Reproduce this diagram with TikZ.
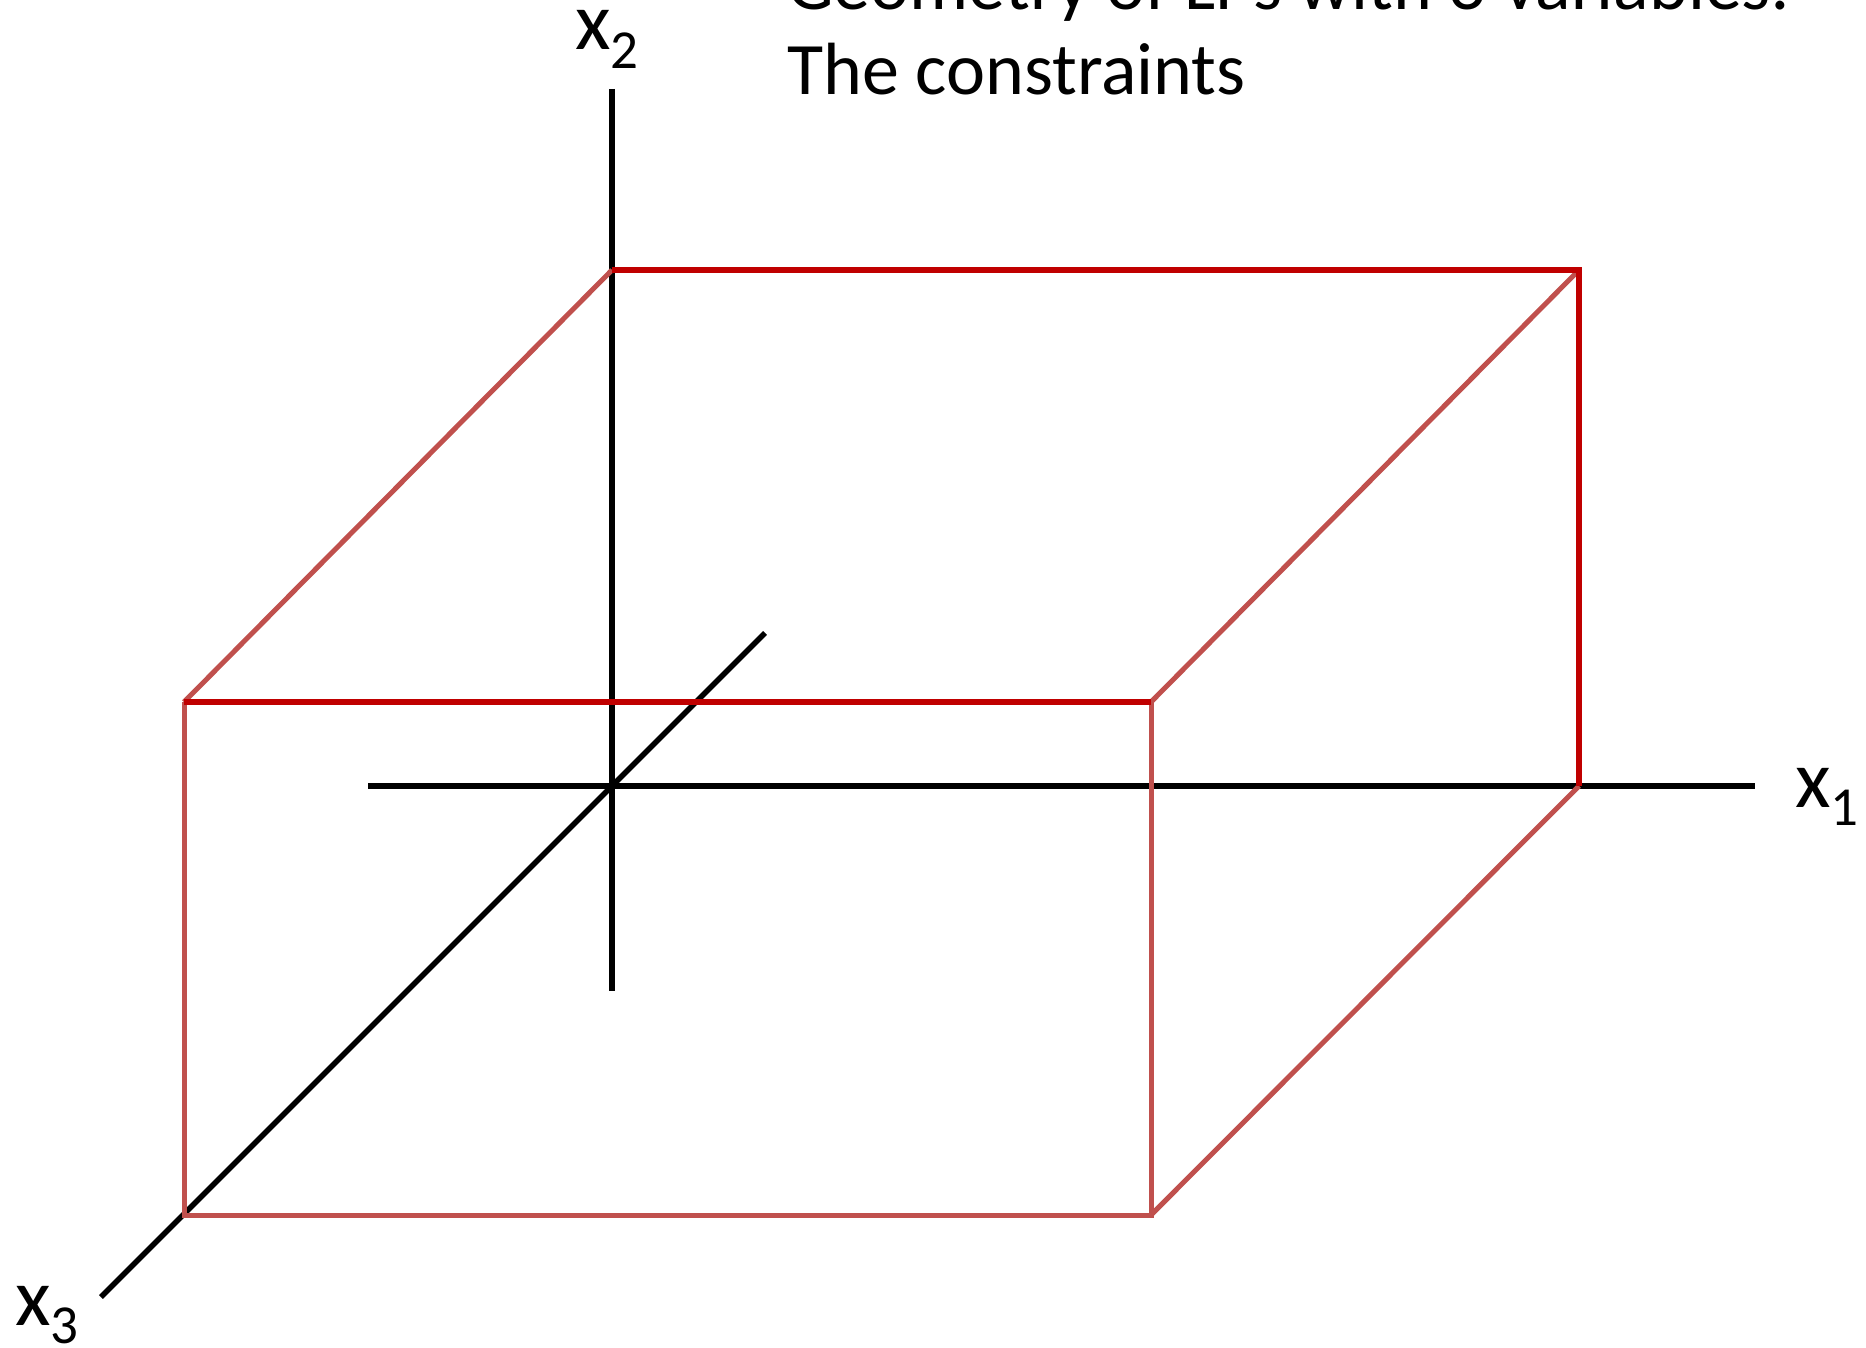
\documentclass[tikz,border=0pt]{standalone}
\usepackage{fontspec}
\setmainfont{Carlito}
\definecolor{edgedark}{HTML}{C00000}
\definecolor{edgelight}{HTML}{C0504D}
\newcommand\axsub[1]{\raisebox{-0.22em}{\fontsize{55}{60}\selectfont #1}}
\begin{document}
\begin{tikzpicture}[x=1pt,y=-1pt,
  axis/.style={line width=5.5pt,black},
  backedge/.style={line width=5.5pt,edgedark},
  frontedge/.style={line width=5pt,edgelight},
  axislabel/.style={font=\fontsize{82}{90}\selectfont,inner sep=0pt,anchor=base west},
  titletext/.style={font=\fontsize{74}{85}\selectfont,inner sep=0pt,anchor=base west}]
  \useasboundingbox (0,0) rectangle (1866,1348);
  % axes
  \coordinate (o) at (612,786);
  \coordinate (x1l) at (368,786);
  \coordinate (x1r) at (1755,786);
  \coordinate (x2t) at (612,89);
  \coordinate (x2b) at (612,991);
  \coordinate (x3u) at (765,633);
  \coordinate (x3d) at (101,1297);
  % box corners
  \coordinate (btl) at (612,270);
  \coordinate (btr) at (1579,270);
  \coordinate (bbr) at (1579,786);
  \coordinate (ftl) at (184,702);
  \coordinate (ftr) at (1151,702);
  \coordinate (fbl) at (184,1215);
  \coordinate (fbr) at (1151,1215);
  \draw[axis] (x1l) -- (x1r);
  \draw[axis] (x2t) -- (x2b);
  \draw[axis] (x3u) -- (x3d);
  \draw[frontedge] (ftl) -- (btl);
  \draw[frontedge] (ftr) -- (btr);
  \draw[frontedge] (fbr) -- (bbr);
  \draw[frontedge] (ftl) -- (fbl) -- (fbr) -- (ftr);
  \draw[backedge] (btl) -- (btr) -- (bbr);
  \draw[backedge] (ftl) -- (ftr);
  \node[axislabel] (l2) at (575,50) {x\axsub{2}};
  \node[axislabel] (l1) at (1795,807) {x\axsub{1}};
  \node[axislabel] (l3) at (15,1325) {x\axsub{3}};
  \node[titletext] (t1) at (787,10) {Geometry of LPs with 3 variables:};
  \node[titletext] (t2) at (787,95) {The constraints};
\end{tikzpicture}
\end{document}
